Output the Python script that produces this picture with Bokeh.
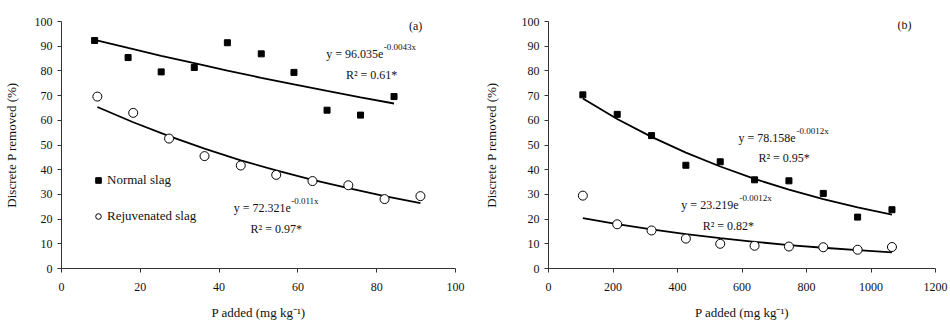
from bokeh.plotting import figure
from bokeh.layouts import row
from bokeh.models import Range1d, Label, Legend, LegendItem, FixedTicker
from bokeh.embed import file_html
from bokeh.resources import INLINE

# ---------------- data ----------------
a_x_normal = [8.4, 16.9, 25.3, 33.7, 42.1, 50.7, 59.0, 67.4, 75.9, 84.4]
a_y_normal = [92.3, 85.4, 79.6, 81.4, 91.4, 86.9, 79.4, 64.1, 62.1, 69.6]
a_trend_normal = [92.6, 89.3, 86.1, 83.1, 80.1, 77.2, 74.5, 71.9, 69.3, 66.8]
a_x_rejuv = [9.1, 18.2, 27.3, 36.3, 45.5, 54.5, 63.7, 72.8, 82.0, 91.1]
a_y_rejuv = [69.6, 63.0, 52.6, 45.5, 41.7, 37.9, 35.4, 33.7, 28.1, 29.3]
a_trend_rejuv = [65.4, 59.2, 53.6, 48.5, 43.8, 39.7, 35.9, 32.5, 29.3, 26.5]

b_x = [106.5, 213, 319.5, 426, 532.5, 639, 745.5, 852, 958.5, 1065]
b_y_normal = [70.3, 62.4, 53.8, 41.8, 43.2, 35.9, 35.5, 30.4, 20.8, 23.8]
b_trend_normal = [68.8, 60.5, 53.3, 46.9, 41.3, 36.3, 31.9, 28.1, 24.7, 21.8]
b_y_rejuv = [29.5, 17.9, 15.4, 12.1, 10.0, 9.2, 8.9, 8.6, 7.6, 8.7]
b_trend_rejuv = [20.4, 18.0, 15.8, 13.9, 12.3, 10.8, 9.5, 8.4, 7.4, 6.5]

a_x_ticks = [0, 20, 40, 60, 80, 100]
b_x_ticks = [0, 200, 400, 600, 800, 1000, 1200]
y_ticks = [0, 10, 20, 30, 40, 50, 60, 70, 80, 90, 100]

y_title = "Discrete P removed (%)"
x_title = "P added (mg kg\u207b\u00b9)"

FONT = "'Liberation Serif', 'Times New Roman', serif"
INK = "#111111"
AXIS = "#333333"


def make_fig(xmax, xticks, border_left, border_right, border_top, ylabel_standoff):
    p = figure(width=475, height=322, output_backend="svg", toolbar_location=None,
               x_range=Range1d(0, xmax), y_range=Range1d(0, 100),
               min_border_left=border_left, min_border_right=border_right,
               min_border_top=border_top, min_border_bottom=54)
    p.outline_line_color = None
    p.xgrid.visible = False
    p.ygrid.visible = False
    p.xaxis.ticker = FixedTicker(ticks=xticks)
    p.yaxis.ticker = FixedTicker(ticks=y_ticks)
    for ax in (p.xaxis[0], p.yaxis[0]):
        ax.axis_line_color = AXIS
        ax.major_tick_line_color = AXIS
        ax.minor_tick_line_color = None
        ax.major_tick_out = 4
        ax.major_tick_in = 0
        ax.major_label_text_font = FONT
        ax.major_label_text_font_size = "12px"
        ax.major_label_text_color = INK
        ax.axis_label_text_font = FONT
        ax.axis_label_text_font_size = "13px"
        ax.axis_label_text_font_style = "normal"
        ax.axis_label_text_color = INK
    p.xaxis.major_label_standoff = 10
    p.xaxis.axis_label = x_title
    p.xaxis.axis_label_standoff = 11
    p.yaxis.axis_label = y_title
    p.yaxis.axis_label_standoff = ylabel_standoff
    return p


def lbl(p, x, y, text, size="12px", align="left"):
    p.add_layout(Label(x=x, y=y, text=text, text_font=FONT, text_font_size=size,
                       text_color=INK, text_baseline="middle", text_align=align))


# ---------------- panel (a) ----------------
pa = make_fig(100, a_x_ticks, 59, 20, 21, 13)
pa.line(a_x_normal, a_trend_normal, line_color="black", line_width=1.8)
pa.line(a_x_rejuv, a_trend_rejuv, line_color="black", line_width=1.8)
ra1 = pa.scatter(a_x_normal, a_y_normal, marker="square", size=6,
                 fill_color="black", line_color="black")
ra2 = pa.scatter(a_x_rejuv, a_y_rejuv, marker="circle", size=9,
                 fill_color="white", line_color="black", line_width=1)

leg = Legend(items=[LegendItem(label="Normal slag", renderers=[ra1]),
                    LegendItem(label="Rejuvenated slag", renderers=[ra2])],
             location=(30, 42), orientation="vertical",
             padding=0, margin=0, spacing=16, glyph_width=14, glyph_height=20,
             label_height=20, label_standoff=2,
             label_text_font=FONT, label_text_font_size="13px", label_text_color=INK,
             border_line_alpha=0, background_fill_alpha=0)
pa.add_layout(leg, "center")

lbl(pa, 89.9, 98.1, "(a)", align="center")
lbl(pa, 67.2, 86.7, "y = 96.035e")
lbl(pa, 81.8, 89.6, "-0.0043x", size="9px")
lbl(pa, 72.2, 78.2, "R\u00b2 = 0.61*")
lbl(pa, 43.7, 24.3, "y = 72.321e")
lbl(pa, 58.3, 27.2, "-0.011x", size="9px")
lbl(pa, 48.0, 15.8, "R\u00b2 = 0.97*")

# ---------------- panel (b) ----------------
pb = make_fig(1200, b_x_ticks, 73, 15, 15, 20)
pb.line(b_x, b_trend_normal, line_color="black", line_width=1.8)
pb.line(b_x, b_trend_rejuv, line_color="black", line_width=1.8)
pb.scatter(b_x, b_y_normal, marker="square", size=6,
           fill_color="black", line_color="black")
pb.scatter(b_x, b_y_rejuv, marker="circle", size=9,
           fill_color="white", line_color="black", line_width=1)

lbl(pb, 1104, 98.4, "(b)", align="center")
lbl(pb, 589, 53.0, "y = 78.158e")
lbl(pb, 769, 55.7, "-0.0012x", size="9px")
lbl(pb, 651, 44.7, "R\u00b2 = 0.95*")
lbl(pb, 412, 25.7, "y = 23.219e")
lbl(pb, 592, 28.5, "-0.0012x", size="9px")
lbl(pb, 478, 17.4, "R\u00b2 = 0.82*")

layout = row(pa, pb, spacing=0)
open("out.html", "w").write(file_html(layout, INLINE))
